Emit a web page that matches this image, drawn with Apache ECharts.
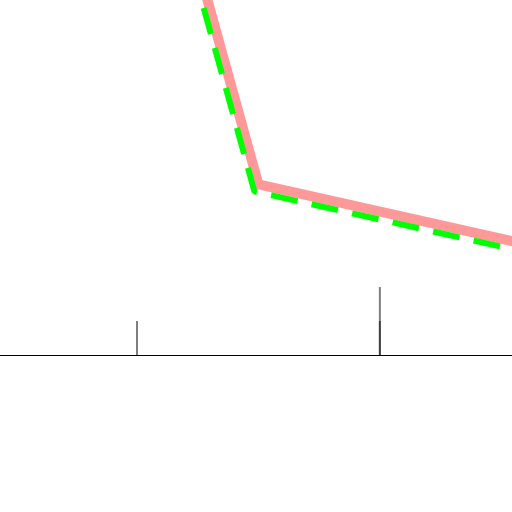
<!DOCTYPE html>
<html><head><meta charset="utf-8">
<script src="https://cdn.jsdelivr.net/npm/echarts@6/dist/echarts.min.js"></script>
<style>html,body{margin:0;padding:0;background:#fff}#c{width:512px;height:512px}</style>
</head><body><div id="c"></div>
<script>
// Data
const pinkX = [4.0, 5.5, 11.0];
const pinkY = [12.77, 5.02, 3.26];
const greenX = [3.918, 5.418, 10.918];
const greenY = [12.56, 4.81, 3.05];
const barX = [3, 8];
const barLowY = [1, 1];
const barHighX = [8];
const barHighY = [2];

const chart = echarts.init(document.getElementById('c'), null, {renderer: 'canvas'});
chart.setOption({
  animation: false,
  grid: {left: 0, right: 0, top: 0, bottom: 157, containLabel: false},
  xAxis: {
    type: 'value', min: 0.18, max: 10.72,
    axisLine: {show: true, onZero: false, lineStyle: {color: '#000', width: 1}},
    axisTick: {show: false}, axisLabel: {show: false}, splitLine: {show: false}
  },
  yAxis: {
    type: 'value', min: 0, max: 10.44,
    axisLine: {show: false}, axisTick: {show: false}, axisLabel: {show: false}, splitLine: {show: false}
  },
  series: [
    {type: 'bar', data: barX.map((x, i) => [x, barLowY[i]]), barWidth: 2, barGap: '-100%',
     itemStyle: {color: 'rgba(0,0,0,0.5)'}, silent: true},
    {type: 'bar', data: barHighX.map((x, i) => [x, barHighY[i]]), barWidth: 2, barGap: '-100%',
     itemStyle: {color: 'rgba(0,0,0,0.5)'}, silent: true},
    {type: 'line', data: pinkX.map((x, i) => [x, pinkY[i]]), symbol: 'none', clip: true,
     lineStyle: {color: '#ff9999', width: 10, join: 'miter'}},
    {type: 'line', data: greenX.map((x, i) => [x, greenY[i]]), symbol: 'none', clip: true,
     lineStyle: {color: '#00ff00', width: 6, type: [27, 14.5], cap: 'butt'}}
  ]
});
</script></body></html>
